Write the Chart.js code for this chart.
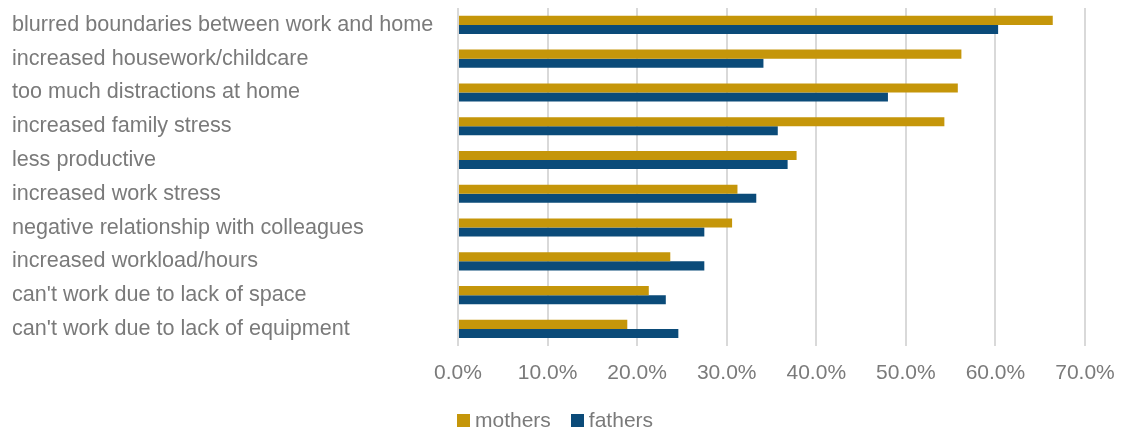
<!DOCTYPE html>
<html>
<head>
<meta charset="utf-8">
<script src="https://cdn.jsdelivr.net/npm/chart.js@4/dist/chart.umd.min.js"></script>
<style>
    html, body { margin: 0; padding: 0; background: #fff; }
    #wrap { position: relative; width: 1144px; height: 432px; }
    #legend {
        position: absolute; left: 457px; top: 408px;
        font: 21px "Liberation Sans", Arial, sans-serif; color: #7a7a7a;
        display: flex; align-items: center; white-space: nowrap;
    }
    #legend .item { display: flex; align-items: center; margin-right: 20px; }
    #legend .box { width: 13px; height: 13px; margin-right: 5px; }
</style>
</head>
<body>
<div id="wrap">
    <canvas id="chart" width="1144" height="432"></canvas>
    <div id="legend"></div>
</div>
<script>
// Reasons reported, top to bottom
const categories = [
    'blurred boundaries between work and home',
    'increased housework/childcare',
    'too much distractions at home',
    'increased family stress',
    'less productive',
    'increased work stress',
    'negative relationship with colleagues',
    'increased workload/hours',
    "can't work due to lack of space",
    "can't work due to lack of equipment"
];

// Share of respondents, in percent
const mothers = [66.4, 56.2, 55.8, 54.3, 37.8, 31.2, 30.6, 23.7, 21.3, 18.9];
const fathers = [60.3, 34.1, 48.0, 35.7, 36.8, 33.3, 27.5, 27.5, 23.2, 24.6];

const seriesNames = ['mothers', 'fathers'];
const seriesColors = ['#C5960A', '#0B4B79'];

const xMax = 70;
const xStep = 10;

const fontFamily = '"Liberation Sans", Arial, sans-serif';
const textColor = '#7a7a7a';

function buildLegend() {
    const legend = document.getElementById('legend');
    seriesNames.forEach((name, i) => {
        const item = document.createElement('div');
        item.className = 'item';
        item.innerHTML = `<span class="box" style="background:${seriesColors[i]}"></span>${name}`;
        legend.appendChild(item);
    });
}

document.addEventListener('DOMContentLoaded', () => {
    const ctx = document.getElementById('chart').getContext('2d');

    new Chart(ctx, {
        type: 'bar',
        data: {
            labels: categories,
            datasets: [
                { label: seriesNames[0], data: mothers, backgroundColor: seriesColors[0] },
                { label: seriesNames[1], data: fathers, backgroundColor: seriesColors[1] }
            ]
        },
        options: {
            indexAxis: 'y',
            responsive: false,
            animation: false,
            layout: {
                padding: { top: 8, left: 12, right: 59, bottom: 31 }
            },
            datasets: {
                bar: {
                    categoryPercentage: 0.536,
                    barPercentage: 1.0,
                    borderWidth: 0
                }
            },
            plugins: {
                legend: { display: false },
                tooltip: { enabled: false }
            },
            scales: {
                x: {
                    min: 0,
                    max: xMax,
                    border: { display: false },
                    grid: {
                        color: '#d9d9d9',
                        lineWidth: 2,
                        drawTicks: false
                    },
                    ticks: {
                        stepSize: xStep,
                        padding: 15,
                        color: textColor,
                        font: { family: fontFamily, size: 21 },
                        callback: (v) => v.toFixed(1) + '%'
                    }
                },
                y: {
                    border: { display: false },
                    grid: { display: false, drawTicks: false },
                    // fixed label column, and no overflow padding above/below
                    afterFit: (scale) => {
                        scale.width = 446;
                        scale.paddingTop = 0;
                        scale.paddingBottom = 0;
                    },
                    ticks: {
                        crossAlign: 'far',
                        color: textColor,
                        font: { family: fontFamily, size: 21.6 }
                    }
                }
            }
        }
    });

    buildLegend();
});
</script>
</body>
</html>
